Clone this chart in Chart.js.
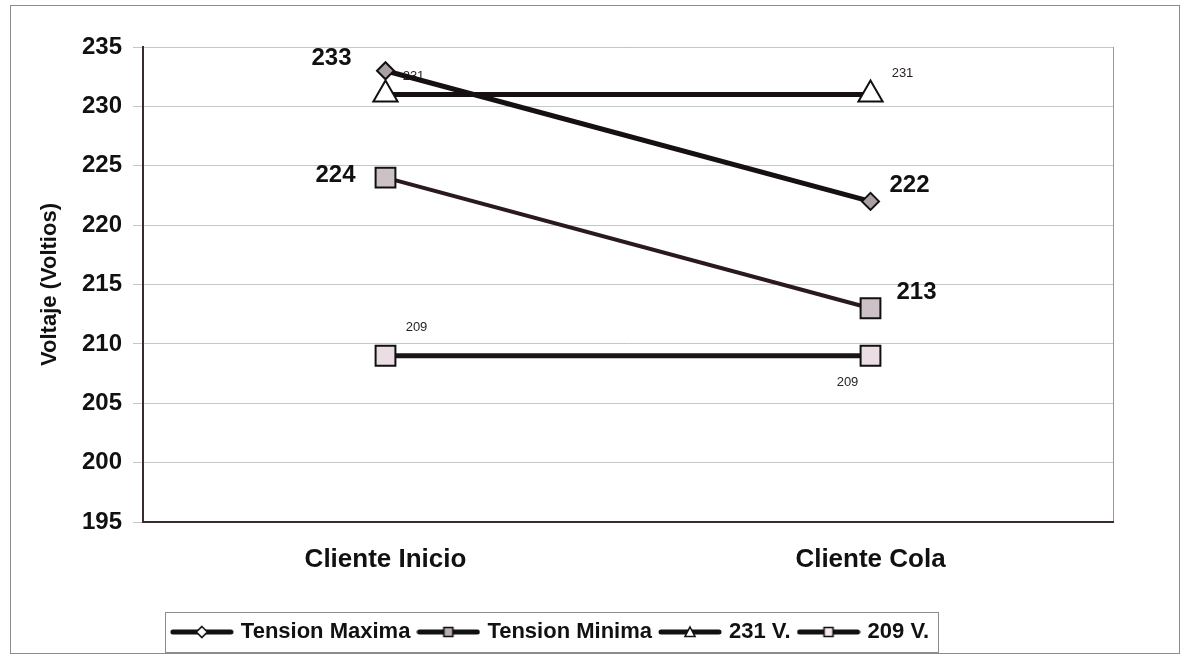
<!DOCTYPE html>
<html lang="es">
<head>
<meta charset="utf-8">
<title>Voltaje en cliente de inicio y de cola</title>
<script src="https://cdn.jsdelivr.net/npm/chart.js@4.4.1/dist/chart.umd.min.js"></script>
<style>
  html, body { margin: 0; padding: 0; background: #ffffff; }
  canvas { display: block; }
</style>
</head>
<body>
<canvas id="chart" width="1190" height="659"></canvas>
<script>
// Measured voltages at the first and last customer of the feeder
const categories = ['Cliente Inicio', 'Cliente Cola'];
const tensionMaxima = [233, 222];
const tensionMinima = [224, 213];
const limite231 = [231, 231];
const limite209 = [209, 209];
const seriesNames = ['Tension Maxima', 'Tension Minima', '231 V.', '209 V.'];
const yTickValues = [195, 200, 205, 210, 215, 220, 225, 230, 235];

// Placement of each value label relative to its point (dx, dy in px)
const labelOffsets = [
  [[-54, -12], [39, -16]],
  [[-50, -2], [46, -16]],
  [[28, -18], [32, -21]],
  [[31, -28], [-23, 27]]
];

const FONT = "'Liberation Sans', Arial, Helvetica, sans-serif";
Chart.defaults.font.family = FONT;
Chart.defaults.color = '#111111';

// Small line+marker swatches for the legend
function legendIcon(shape, fill) {
  const c = document.createElement('canvas');
  c.width = 64; c.height = 16;
  const g = c.getContext('2d');
  g.strokeStyle = '#111111';
  g.lineWidth = 5;
  g.lineCap = 'round';
  g.beginPath(); g.moveTo(3, 8); g.lineTo(61, 8); g.stroke();
  g.lineWidth = 1.6;
  g.lineCap = 'butt';
  g.fillStyle = fill;
  g.beginPath();
  if (shape === 'diamond') {
    g.moveTo(32, 2.5); g.lineTo(37.5, 8); g.lineTo(32, 13.5); g.lineTo(26.5, 8); g.closePath();
  } else if (shape === 'triangle') {
    g.moveTo(32, 3); g.lineTo(37, 12.5); g.lineTo(27, 12.5); g.closePath();
  } else {
    g.rect(27.5, 3.5, 9, 9);
  }
  g.fill(); g.stroke();
  return c;
}
const legendIcons = [
  legendIcon('diamond', '#ffffff'),
  legendIcon('square', '#b8aeb4'),
  legendIcon('triangle', '#ffffff'),
  legendIcon('square', '#f2eaee')
];

const seriesValues = [tensionMaxima, tensionMinima, limite231, limite209];
const seriesStyle = [
  { line: '#161012', width: 5, point: 'rectRot', radius: 8.5, fill: '#a9a0a6', label: 'large' },
  { line: '#2a1a1d', width: 4, point: 'rect', radius: 14, fill: '#cdc1c8', label: 'large' },
  { line: '#161012', width: 5, point: 'triangle', radius: 14, fill: '#ffffff', label: 'small' },
  { line: '#1c1416', width: 5, point: 'rect', radius: 14, fill: '#eadee4', label: 'small' }
];

const datasets = seriesValues.map((vals, i) => ({
  label: seriesNames[i],
  data: vals,
  borderColor: seriesStyle[i].line,
  borderWidth: seriesStyle[i].width,
  pointStyle: seriesStyle[i].point,
  pointRadius: seriesStyle[i].radius,
  pointHoverRadius: seriesStyle[i].radius,
  pointBackgroundColor: seriesStyle[i].fill,
  pointBorderColor: '#111111',
  pointBorderWidth: 2,
  tension: 0,
  fill: false,
  clip: false,
  labelSize: seriesStyle[i].label,
  labelOffsets: labelOffsets[i]
}));

function drawValueLabels(chart, size) {
  const ctx = chart.ctx;
  ctx.save();
  ctx.textAlign = 'center';
  ctx.textBaseline = 'middle';
  chart.data.datasets.forEach((ds, i) => {
    if (ds.labelSize !== size) return;
    const meta = chart.getDatasetMeta(i);
    ctx.font = size === 'large' ? 'bold 24px ' + FONT : '13px ' + FONT;
    ctx.fillStyle = size === 'large' ? '#111111' : '#2a2326';
    meta.data.forEach((pt, j) => {
      const off = ds.labelOffsets[j];
      ctx.fillText(String(ds.data[j]), pt.x + off[0], pt.y + off[1]);
    });
  });
  ctx.restore();
}

const framePlugin = {
  id: 'frame',
  beforeDraw(chart) {
    const ctx = chart.ctx;
    const a = chart.chartArea;
    ctx.save();
    ctx.fillStyle = '#ffffff';
    ctx.fillRect(0, 0, chart.width, chart.height);
    // outer chart border
    ctx.strokeStyle = '#8c8c8c';
    ctx.lineWidth = 1;
    ctx.strokeRect(10.5, 5.5, chart.width - 21, chart.height - 11);
    // plot area border
    ctx.strokeStyle = '#9a9a9a';
    ctx.strokeRect(a.left + 0.5, a.top + 0.5, a.right - a.left, a.bottom - a.top);
    ctx.restore();
  },
  afterLayout(chart) {
    // nudge the legend row a little to the left
    const lg = chart.legend;
    lg.left -= 10;
    lg.right -= 10;
  },
  beforeDatasetsDraw(chart) { drawValueLabels(chart, 'small'); },
  afterDatasetsDraw(chart) { drawValueLabels(chart, 'large'); },
  afterDraw(chart) {
    const lg = chart.legend;
    const boxes = lg.legendHitBoxes;
    if (!boxes || !boxes.length) return;
    const left = boxes[0].left - 9;
    const right = boxes[boxes.length - 1].left + boxes[boxes.length - 1].width + 9;
    const ctx = chart.ctx;
    ctx.save();
    ctx.strokeStyle = '#8c8c8c';
    ctx.lineWidth = 1;
    ctx.strokeRect(Math.round(left) + 0.5, Math.round(lg.top) + 1.5, Math.round(right - left), Math.round(lg.bottom - lg.top) - 2);
    ctx.restore();
  }
};

new Chart(document.getElementById('chart'), {
  type: 'line',
  data: { labels: categories, datasets },
  options: {
    responsive: false,
    animation: false,
    layout: { padding: { left: 10, right: 77, top: 47, bottom: 6 } },
    plugins: {
      tooltip: { enabled: false },
      legend: {
        position: 'bottom',
        labels: {
          usePointStyle: true,
          pointStyleWidth: 56,
          padding: 10,
          color: '#111111',
          font: { size: 22, weight: 'bold' },
          generateLabels(chart) {
            const items = Chart.defaults.plugins.legend.labels.generateLabels(chart);
            items.forEach((it, i) => { it.pointStyle = legendIcons[i]; });
            return items;
          }
        }
      }
    },
    scales: {
      x: {
        offset: true,
        grid: { display: false, drawTicks: false },
        border: { display: true, color: '#3a2c2e', width: 2 },
        ticks: { padding: 22, color: '#111111', font: { size: 26, weight: 'bold' } },
        afterFit(scale) { scale.height = 89; }
      },
      y: {
        min: 195,
        max: 235,
        afterBuildTicks(scale) { scale.ticks = yTickValues.map(v => ({ value: v })); },
        grid: { color: '#c6c6c6', lineWidth: 1, tickLength: 10, drawTicks: true },
        border: { display: true, color: '#3a2c2e', width: 2 },
        ticks: { padding: 11, color: '#111111', font: { size: 24, weight: 'bold' } },
        title: {
          display: true,
          text: 'Voltaje (Voltios)',
          color: '#111111',
          font: { size: 22, weight: 'bold' },
          padding: { top: 27, bottom: 0 }
        },
        afterFit(scale) { scale.width = 133; }
      }
    }
  },
  plugins: [framePlugin]
});
</script>
</body>
</html>
